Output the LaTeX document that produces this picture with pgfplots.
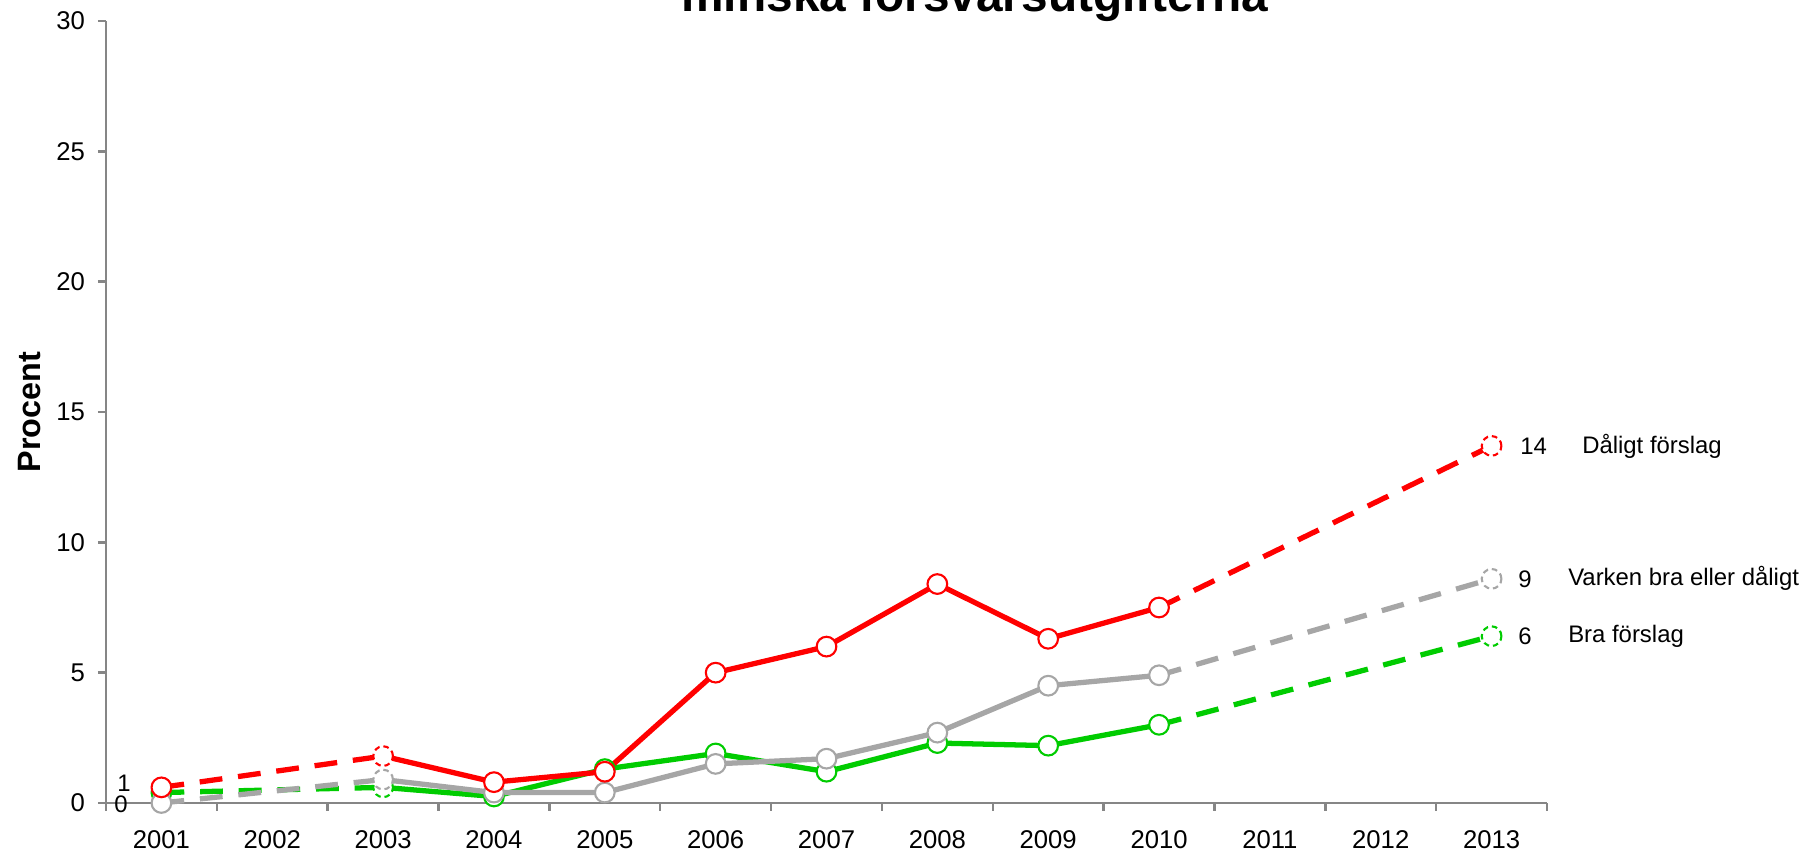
\documentclass[border=0pt]{standalone}
\usepackage{fontspec}
\setmainfont{Liberation Sans}
\usepackage{pgfplots}
\pgfplotsset{compat=1.18}
\definecolor{cred}{RGB}{255,0,0}
\definecolor{cgreen}{RGB}{0,204,0}
\definecolor{cgrey}{RGB}{166,166,166}
\definecolor{axgrey}{RGB}{134,134,134}
\tikzset{dlab/.style={inner sep=0pt, font=\fontsize{6.8}{8}\selectfont}}
\begin{document}
\begin{tikzpicture}
\begin{axis}[
  name=ax,
  scale only axis,
  width=144.1mm, height=78.2mm,
  xmin=-0.5, xmax=12.5,
  ymin=0, ymax=30,
  axis x line=bottom, axis y line=left,
  axis line style={-, draw=axgrey, line width=0.7pt},
  xtick={0,...,12},
  xticklabels={2001,2002,2003,2004,2005,2006,2007,2008,2009,2010,2011,2012,2013},
  minor xtick={-0.5,0.5,...,12.5},
  ytick={0,5,...,30},
  tick align=outside,
  major tick length=0.8mm,
  minor tick length=0.8mm,
  major x tick style={draw=none},
  tick style={draw=axgrey, line width=0.7pt},
  /pgf/number format/assume math mode=true,
  tick label style={font=\fontsize{7.3}{8.5}\selectfont},
  yticklabel style={inner sep=0pt, xshift=-1.25mm},
  xticklabel style={inner sep=0pt, yshift=-1.9mm},
  ylabel={Procent},
  ylabel style={at={(axis description cs:-0.0534,0.5)}, anchor=center, font=\fontsize{9.2}{11}\selectfont\bfseries},
  clip=false,
  every axis plot/.append style={line width=1.5pt},
  mark size=2.8pt,
]
% ---- green: Bra förslag
\addplot[cgreen, dash pattern=on 6.5pt off 4.5pt] coordinates {(0,0.4) (2,0.6)};
\addplot[cgreen, dash pattern=on 6.5pt off 4.5pt] coordinates {(9,3.0) (12,6.4)};
\addplot[cgreen] coordinates {(2,0.6) (3,0.25) (4,1.3) (5,1.9) (6,1.2) (7,2.3) (8,2.2) (9,3.0)};
\addplot[only marks, mark=*, mark options={fill=white, draw=cgreen, line width=0.6pt, solid}] coordinates {(0,0.4) (3,0.25) (4,1.3) (5,1.9) (6,1.2) (7,2.3) (8,2.2) (9,3.0)};
\addplot[only marks, mark=*, mark options={fill=white, draw=cgreen, line width=0.6pt, dash pattern=on 1.6pt off 1.1pt}] coordinates {(2,0.6) (12,6.4)};
% ---- grey: Varken bra eller dåligt
\addplot[cgrey, dash pattern=on 6.5pt off 4.5pt] coordinates {(0,0.0) (2,0.9)};
\addplot[cgrey, dash pattern=on 6.5pt off 4.5pt] coordinates {(9,4.9) (12,8.6)};
\addplot[cgrey] coordinates {(2,0.9) (3,0.4) (4,0.4) (5,1.5) (6,1.7) (7,2.7) (8,4.5) (9,4.9)};
\addplot[only marks, mark=*, mark options={fill=white, draw=cgrey, line width=0.6pt, solid}] coordinates {(0,0.0) (3,0.4) (4,0.4) (5,1.5) (6,1.7) (7,2.7) (8,4.5) (9,4.9)};
\addplot[only marks, mark=*, mark options={fill=white, draw=cgrey, line width=0.6pt, dash pattern=on 1.6pt off 1.1pt}] coordinates {(2,0.9) (12,8.6)};
% ---- red: Dåligt förslag
\addplot[cred, dash pattern=on 6.5pt off 4.5pt] coordinates {(0,0.6) (2,1.8)};
\addplot[cred, dash pattern=on 6.5pt off 4.5pt] coordinates {(9,7.5) (12,13.7)};
\addplot[cred] coordinates {(2,1.8) (3,0.8) (4,1.2) (5,5.0) (6,6.0) (7,8.4) (8,6.3) (9,7.5)};
\addplot[only marks, mark=*, mark options={fill=white, draw=cred, line width=0.6pt, solid}] coordinates {(0,0.6) (3,0.8) (4,1.2) (5,5.0) (6,6.0) (7,8.4) (8,6.3) (9,7.5)};
\addplot[only marks, mark=*, mark options={fill=white, draw=cred, line width=0.6pt, dash pattern=on 1.6pt off 1.1pt}] coordinates {(2,1.8) (12,13.7)};
% ---- data labels
\node[dlab, anchor=east, xshift=-3.0mm, yshift=0.45mm] at (axis cs:0,0.6) {1};
\node[dlab, anchor=east, xshift=-3.3mm, yshift=-0.1mm] at (axis cs:0,0) {0};
\node[dlab, anchor=west, xshift=2.8mm] at (axis cs:12,13.7) {14};
\node[dlab, anchor=west, xshift=9.0mm] at (axis cs:12,13.7) {Dåligt förslag};
\node[dlab, anchor=west, xshift=2.6mm] at (axis cs:12,8.6) {9};
\node[dlab, anchor=west, xshift=7.6mm] at (axis cs:12,8.6) {Varken bra eller dåligt};
\node[dlab, anchor=west, xshift=2.6mm] at (axis cs:12,6.4) {6};
\node[dlab, anchor=west, xshift=7.6mm] at (axis cs:12,6.4) {Bra förslag};
\end{axis}
\node[anchor=base, inner sep=0pt, font=\fontsize{13.6}{16}\selectfont\bfseries] at ([shift={(86.9mm,1.0mm)}]ax.north west) {minska försvarsutgifterna};
\pgfresetboundingbox
\path[use as bounding box] ([shift={(-10.6mm,-4.6mm)}]ax.south west) rectangle ([shift={(26.3mm,2.1mm)}]ax.north east);
\end{tikzpicture}
\end{document}
